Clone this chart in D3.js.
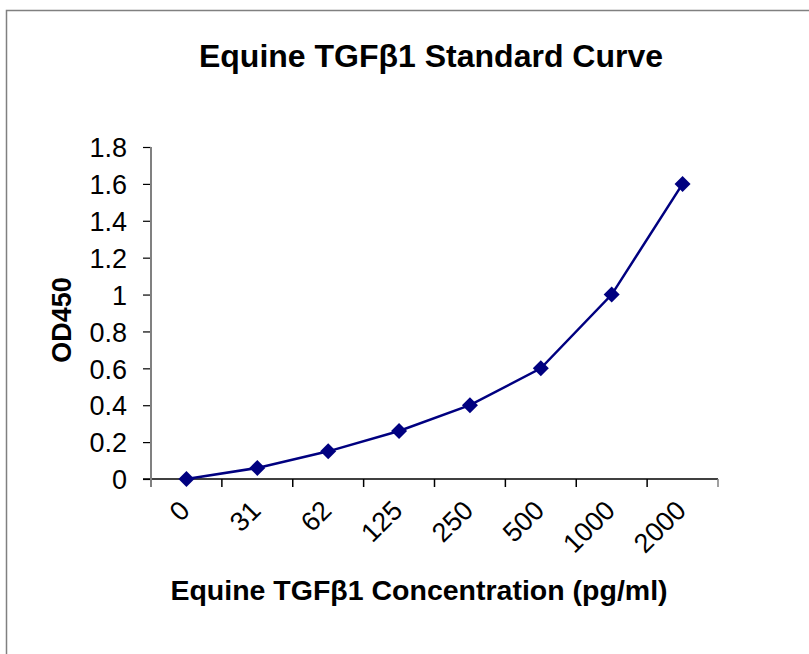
<!DOCTYPE html>
<html>
<head>
<meta charset="utf-8">
<script src="https://cdn.jsdelivr.net/npm/d3@7"></script>
<style>
  body { margin: 0; background: #fff; }
  svg text { font-family: "Liberation Sans", Arial, sans-serif; fill: #000; }
</style>
</head>
<body>
<script>
// standard curve data
var concentrations = ["0", "31", "62", "125", "250", "500", "1000", "2000"];
var odValues = [0, 0.06, 0.15, 0.26, 0.40, 0.60, 1.00, 1.60];
var yTicks = [0, 0.2, 0.4, 0.6, 0.8, 1, 1.2, 1.4, 1.6, 1.8];

var width = 809, height = 654;
var plot = {left: 151, right: 718, top: 147, bottom: 479};

var svg = d3.select("body").append("svg")
	.attr("width", width)
	.attr("height", height);

// outer chart frame (runs past the window on right/bottom)
svg.append("rect")
	.attr("x", 6.5).attr("y", 10.5)
	.attr("width", 900).attr("height", 900)
	.attr("fill", "none")
	.attr("stroke", "#808080")
	.attr("stroke-width", 1.5);

var x = d3.scaleBand()
	.domain(concentrations)
	.range([plot.left, plot.right]);

var y = d3.scaleLinear()
	.domain([0, 1.8])
	.range([plot.bottom, plot.top]);

// y axis
var yAxis = svg.append("g")
	.attr("transform", "translate(" + plot.left + ",0)")
	.call(d3.axisLeft(y).tickValues(yTicks).tickSize(8).tickPadding(16)
		.tickFormat(function(d) { return d3.format("")(+d.toFixed(1)); }));
yAxis.select(".domain").remove();
yAxis.selectAll(".tick line").attr("stroke", "#000").attr("stroke-width", 1.2);
yAxis.selectAll(".tick text").attr("font-size", 27).attr("dy", "0.36em");

// x axis line, boundary ticks between categories
var bounds = concentrations.map(function(c) { return x(c); }).concat([x.range()[1]]);
svg.append("line")
	.attr("x1", plot.left - 8).attr("x2", plot.right)
	.attr("y1", plot.bottom).attr("y2", plot.bottom)
	.attr("stroke", "#000").attr("stroke-width", 1.5);
svg.selectAll(".xtick")
	.data(bounds)
	.enter().append("line")
	.attr("class", "xtick")
	.attr("x1", function(d) { return d; }).attr("x2", function(d) { return d; })
	.attr("y1", plot.bottom).attr("y2", plot.bottom + 8)
	.attr("stroke", function(d, i) { return (i == 0 || i == bounds.length - 1) ? "#808080" : "#000"; })
	.attr("stroke-width", 1.5);

// y axis line (gray)
svg.append("line")
	.attr("x1", plot.left).attr("x2", plot.left)
	.attr("y1", plot.top).attr("y2", plot.bottom + 8)
	.attr("stroke", "#808080").attr("stroke-width", 2);

// rotated category labels
svg.selectAll(".xlabel")
	.data(concentrations)
	.enter().append("text")
	.attr("class", "xlabel")
	.attr("text-anchor", "end")
	.attr("font-size", 27)
	.attr("transform", function(d) {
		return "translate(" + (x(d) + x.bandwidth() / 2 + 5) + "," + (plot.bottom + 33) + ") rotate(-45)";
	})
	.text(function(d) { return d; });

// line + diamond markers
var pts = concentrations.map(function(c, i) { return [x(c) + x.bandwidth() / 2, y(odValues[i])]; });
svg.append("path")
	.datum(pts)
	.attr("d", d3.line())
	.attr("fill", "none")
	.attr("stroke", "#000080")
	.attr("stroke-width", 2.5);
svg.selectAll(".marker")
	.data(pts)
	.enter().append("path")
	.attr("class", "marker")
	.attr("d", d3.symbol(d3.symbolSquare, 128))
	.attr("transform", function(d) { return "translate(" + d[0] + "," + d[1] + ") rotate(45)"; })
	.attr("fill", "#000080");

// titles
svg.append("text")
	.attr("x", 431).attr("y", 67)
	.attr("text-anchor", "middle")
	.attr("font-size", 32).attr("font-weight", "bold")
	.text("Equine TGFβ1 Standard Curve");

svg.append("text")
	.attr("x", 419).attr("y", 600)
	.attr("text-anchor", "middle")
	.attr("font-size", 28.5).attr("font-weight", "bold")
	.text("Equine TGFβ1 Concentration (pg/ml)");

svg.append("text")
	.attr("transform", "translate(71,320) rotate(-90)")
	.attr("text-anchor", "middle")
	.attr("font-size", 27).attr("font-weight", "bold")
	.text("OD450");
</script>
</body>
</html>
